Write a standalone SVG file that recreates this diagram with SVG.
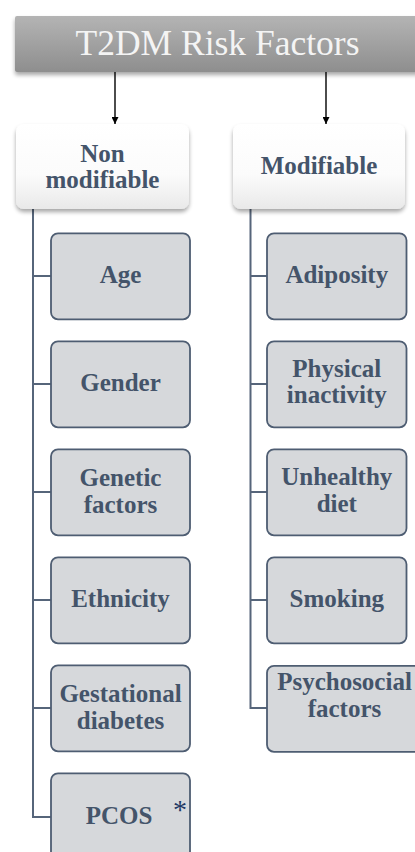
<svg xmlns="http://www.w3.org/2000/svg" width="415" height="852" viewBox="0 0 415 852">
  <defs>
    <linearGradient id="gTitle" x1="0" y1="0" x2="0" y2="1">
      <stop offset="0" stop-color="#b4b4b4"/>
      <stop offset="1" stop-color="#8e8e8e"/>
    </linearGradient>
    <linearGradient id="gHead" x1="0" y1="0" x2="0" y2="1">
      <stop offset="0" stop-color="#ffffff"/>
      <stop offset="0.6" stop-color="#fbfbfb"/>
      <stop offset="1" stop-color="#e9e9e9"/>
    </linearGradient>
    <filter id="shadow" x="-10%" y="-10%" width="130%" height="140%">
      <feGaussianBlur in="SourceAlpha" stdDeviation="2"/>
      <feOffset dx="0" dy="2.5" result="b"/>
      <feComponentTransfer><feFuncA type="linear" slope="0.35"/></feComponentTransfer>
      <feMerge><feMergeNode/><feMergeNode in="SourceGraphic"/></feMerge>
    </filter>
    <marker id="arrow" viewBox="0 0 10 10" refX="10" refY="5" markerWidth="7" markerHeight="7" markerUnits="userSpaceOnUse" orient="auto">
      <path d="M0,0 L10,5 L0,10 z" fill="#000"/>
    </marker>
  </defs>
  <style>
    text { font-family: 'Liberation Serif', 'DejaVu Serif', serif; }
    .lbl { font-weight: 700; font-size: 25px; fill: #44546a; text-anchor: middle; }
    .item { fill: #d6d8db; stroke: #4e5d72; stroke-width: 1.8; }
    .head { fill: url(#gHead); filter: url(#shadow); }
    .conn { fill: none; stroke: #56657a; stroke-width: 2; }
    .arr { stroke: #000; stroke-width: 1.4; marker-end: url(#arrow); }
  </style>

  <g id="title">
    <rect x="15" y="16" width="420" height="56" rx="2" fill="url(#gTitle)" filter="url(#shadow)"/>
    <text x="217.5" y="55" font-size="35.5" fill="#f4f4f4" text-anchor="middle">T2DM Risk Factors</text>
  </g>

  <g id="connectors">
    <line class="arr" x1="115" y1="72" x2="115" y2="124"/>
    <line class="arr" x1="326" y1="72" x2="326" y2="124"/>
    <path class="conn" d="M33,209 V817 H51 M33,276 H51 M33,384 H51 M33,492 H51 M33,600 H51 M33,708 H51"/>
    <path class="conn" d="M250.5,209 V708 H267 M250.5,276 H267 M250.5,384 H267 M250.5,492 H267 M250.5,600 H267"/>
  </g>

  <g id="non-modifiable">
    <rect class="head" x="16" y="124" width="173" height="85" rx="8"/>
    <text class="lbl" x="102.5" y="161.5">Non</text>
    <text class="lbl" x="102.5" y="187.5">modifiable</text>
  </g>
  <g id="modifiable">
    <rect class="head" x="233" y="124" width="172" height="85" rx="8"/>
    <text class="lbl" x="319" y="173.5">Modifiable</text>
  </g>

  <g id="age">
    <rect class="item" x="51" y="233.3" width="139" height="86" rx="7"/>
    <text class="lbl" x="120.5" y="283">Age</text>
  </g>
  <g id="gender">
    <rect class="item" x="51" y="341.3" width="139" height="86" rx="7"/>
    <text class="lbl" x="120.5" y="391">Gender</text>
  </g>
  <g id="genetic">
    <rect class="item" x="51" y="449.3" width="139" height="86" rx="7"/>
    <text class="lbl" x="120.5" y="486">Genetic</text>
    <text class="lbl" x="120.5" y="513">factors</text>
  </g>
  <g id="ethnicity">
    <rect class="item" x="51" y="557.3" width="139" height="86" rx="7"/>
    <text class="lbl" x="120.5" y="607">Ethnicity</text>
  </g>
  <g id="gestational">
    <rect class="item" x="51" y="665.3" width="139" height="86" rx="7"/>
    <text class="lbl" x="120.5" y="702">Gestational</text>
    <text class="lbl" x="120.5" y="729">diabetes</text>
  </g>
  <g id="pcos">
    <rect class="item" x="51" y="773.3" width="139" height="86" rx="7"/>
    <text class="lbl" x="119" y="824">PCOS</text>
    <text x="180" y="819" font-size="28" fill="#1f3864" text-anchor="middle">*</text>
  </g>

  <g id="adiposity">
    <rect class="item" x="267" y="233.3" width="139.5" height="86" rx="7"/>
    <text class="lbl" x="336.8" y="282.5">Adiposity</text>
  </g>
  <g id="physical">
    <rect class="item" x="267" y="341.3" width="139.5" height="86" rx="7"/>
    <text class="lbl" x="336.8" y="377">Physical</text>
    <text class="lbl" x="336.8" y="402.5">inactivity</text>
  </g>
  <g id="diet">
    <rect class="item" x="267" y="449.3" width="139.5" height="86" rx="7"/>
    <text class="lbl" x="336.8" y="485">Unhealthy</text>
    <text class="lbl" x="336.8" y="511.5">diet</text>
  </g>
  <g id="smoking">
    <rect class="item" x="267" y="557.3" width="139.5" height="86" rx="7"/>
    <text class="lbl" x="336.8" y="607">Smoking</text>
  </g>
  <g id="psychosocial">
    <rect class="item" x="267" y="665.8" width="154" height="86" rx="7"/>
    <text class="lbl" x="344.5" y="690">Psychosocial</text>
    <text class="lbl" x="344.5" y="717">factors</text>
  </g>
</svg>
